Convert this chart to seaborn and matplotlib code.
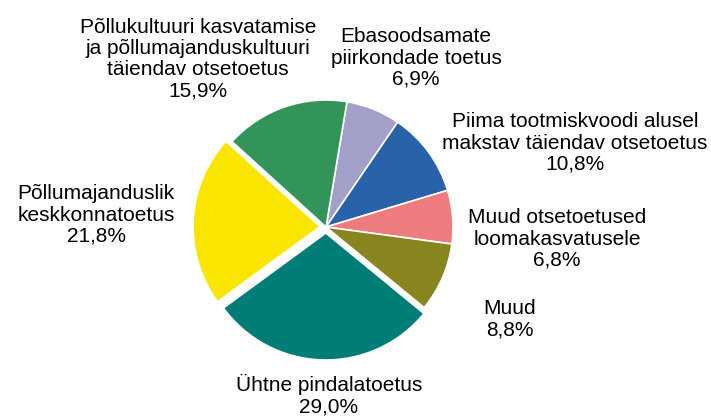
import matplotlib
matplotlib.use("Agg")
import matplotlib.pyplot as plt
import seaborn as sns

# Data (clockwise from top)
categories = [
    "Ebasoodsamate\npiirkondade toetus",
    "Piima tootmiskvoodi alusel\nmakstav täiendav otsetoetus",
    "Muud otsetoetused\nloomakasvatusele",
    "Muud",
    "Ühtne pindalatoetus",
    "Põllumajanduslik\nkeskkonnatoetus",
    "Põllukultuuri kasvatamise\nja põllumajanduskultuuri\ntäiendav otsetoetus",
]
values = [6.9, 10.8, 6.8, 8.8, 29.0, 21.8, 15.9]
pct_labels = ["6,9%", "10,8%", "6,8%", "8,8%", "29,0%", "21,8%", "15,9%"]
colors = ["#A29FC9", "#2862A8", "#EE7B7D", "#88851F", "#007D77", "#F9E500", "#33945A"]

sns.set_theme(style="white")
plt.rcParams["font.family"] = ["Liberation Sans", "DejaVu Sans"]

W, H = 711, 419
fig = plt.figure(figsize=(W / 100, H / 100), dpi=100)
ax = fig.add_axes([0, 0, 1, 1])
cx, cy, r = 326, H - 227, 127
explode = [0, 0, 0, 0, 6, 6, 0]  # pixel offsets
ax.pie(values, colors=colors, startangle=80.5, counterclock=False, explode=explode,
       radius=r, center=(cx, cy), frame=False,
       wedgeprops=dict(edgecolor="white", linewidth=1.2))
ax.set_xlim(0, W)
ax.set_ylim(0, H)
ax.set_aspect("equal")
ax.axis("off")

# label positions (pixel coords, top-origin y)
label_pos = [(416, 58), (575, 143), (557, 239), (510, 319), (329, 395), (96, 215), (198, 59)]
for name, pct, (x, y) in zip(categories, pct_labels, label_pos):
    ax.text(x, H - y, f"{name}\n{pct}", ha="center", va="center",
            fontsize=15, color="black", linespacing=1.15)

fig.savefig("out.png", dpi=100)
